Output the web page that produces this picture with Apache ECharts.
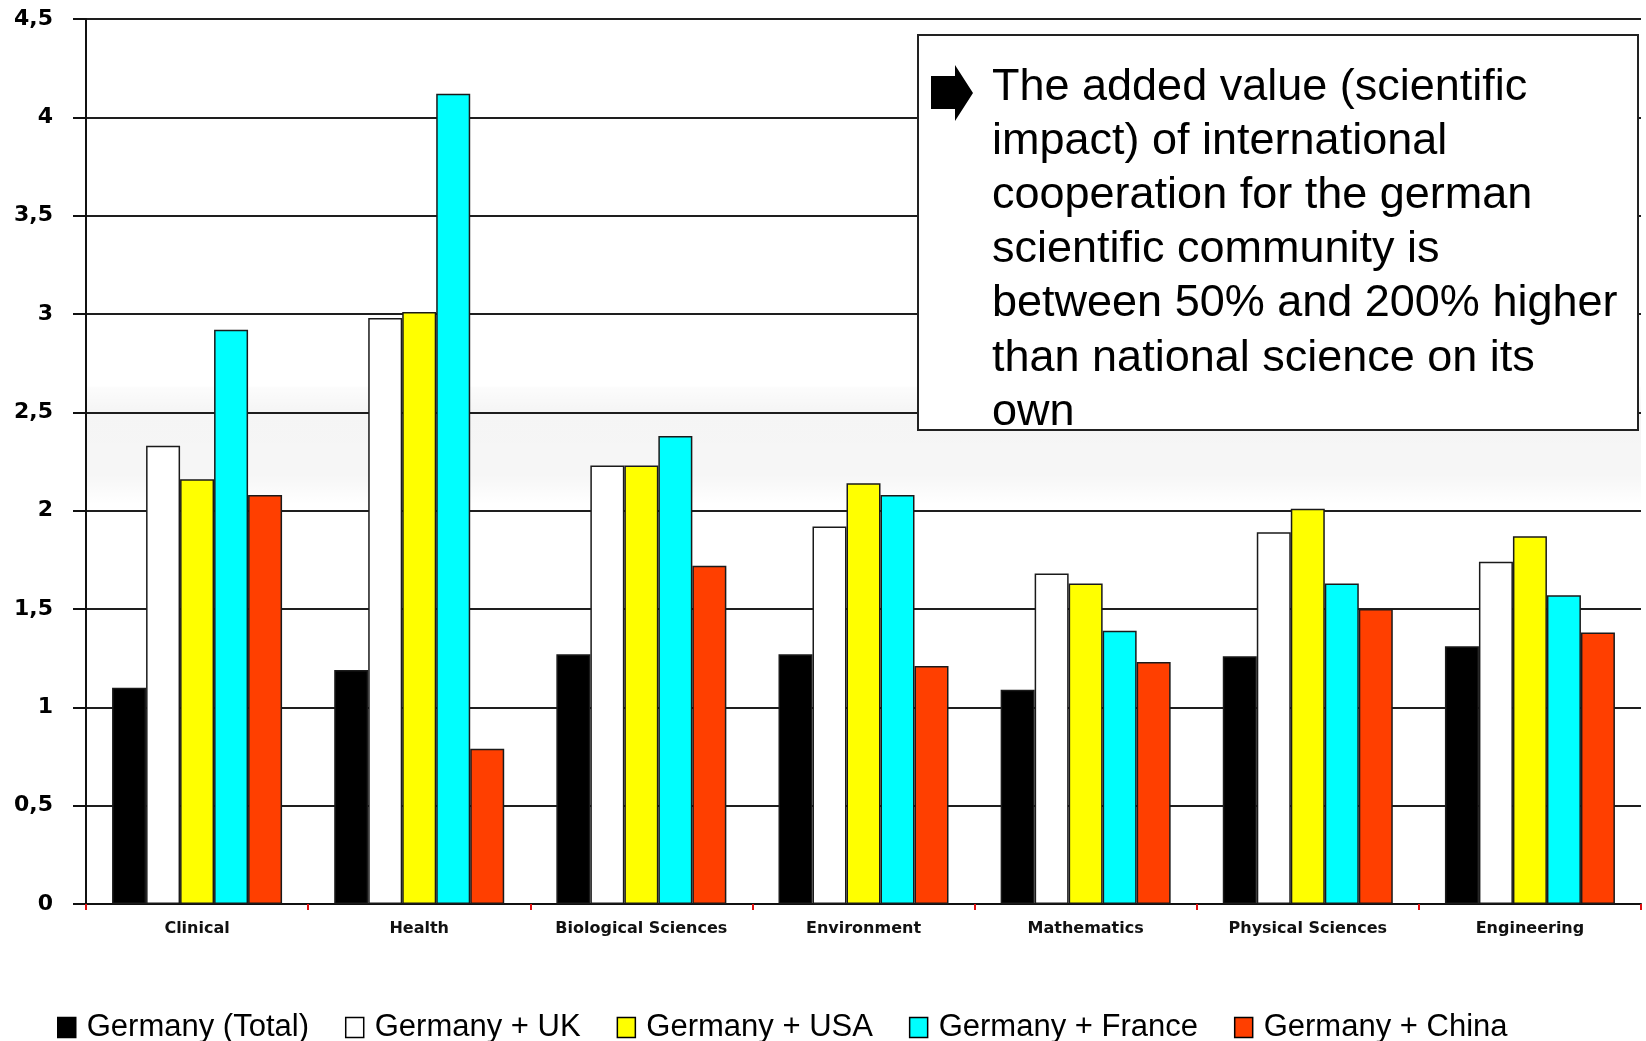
<!DOCTYPE html>
<html>
<head>
<meta charset="utf-8">
<script src="https://cdn.jsdelivr.net/npm/echarts@6/dist/echarts.min.js"></script>
<style>
html,body{margin:0;padding:0;background:#fff;}
#chart{width:1646px;height:1041px;}
</style>
</head>
<body>
<div id="chart"></div>
<script>
var categories = ['Clinical', 'Health', 'Biological Sciences', 'Environment', 'Mathematics', 'Physical Sciences', 'Engineering'];
var germanyTotal  = [1.10, 1.19, 1.27, 1.27, 1.09, 1.26, 1.31];
var germanyUK     = [2.33, 2.98, 2.23, 1.92, 1.68, 1.89, 1.74];
var germanyUSA    = [2.16, 3.01, 2.23, 2.14, 1.63, 2.01, 1.87];
var germanyFrance = [2.92, 4.12, 2.38, 2.08, 1.39, 1.63, 1.57];
var germanyChina  = [2.08, 0.79, 1.72, 1.21, 1.23, 1.50, 1.38];
var seriesNames = ['Germany (Total)', 'Germany + UK', 'Germany + USA', 'Germany + France', 'Germany + China'];
var seriesColors = ['#000000', '#ffffff', '#ffff00', '#00ffff', '#ff3f00'];
var yTicks = [0, 0.5, 1, 1.5, 2, 2.5, 3, 3.5, 4, 4.5];
var noteText = 'The added value (scientific\nimpact) of international\ncooperation for the german\nscientific community is\nbetween 50% and 200% higher\nthan national science on its\nown';

var seriesData = [germanyTotal, germanyUK, germanyUSA, germanyFrance, germanyChina];

var chart = echarts.init(document.getElementById('chart'), null, {renderer: 'canvas'});

var series = seriesData.map(function (d, i) {
  var s = {
    name: seriesNames[i],
    type: 'bar',
    data: d,
    barWidth: 34,
    barGap: '0%',
    itemStyle: {color: seriesColors[i], borderColor: '#1a1a1a', borderWidth: 1.5},
    emphasis: {disabled: true}
  };
  if (i === 0) {
    s.markArea = {
      silent: true,
      itemStyle: {
        color: {type: 'linear', x: 0, y: 0, x2: 0, y2: 1, colorStops: [
          {offset: 0, color: 'rgba(0,0,0,0.01)'},
          {offset: 0.2, color: 'rgba(0,0,0,0.04)'},
          {offset: 0.75, color: 'rgba(0,0,0,0.035)'},
          {offset: 1, color: 'rgba(0,0,0,0)'}
        ]}
      },
      data: [[{yAxis: 2.63}, {yAxis: 2.03}]]
    };
  }
  return s;
});

var option = {
  backgroundColor: '#ffffff',
  animation: false,
  grid: {left: 86, right: 5, top: 19, bottom: 137, containLabel: false},
  legend: {
    left: 52,
    top: 1007,
    itemWidth: 18,
    itemHeight: 20,
    itemGap: 36,
    icon: 'rect',
    data: seriesNames,
    textStyle: {fontFamily: '"Liberation Sans", Arial, sans-serif', fontSize: 31, color: '#000', padding: [0, 0, 0, 6]},
    itemStyle: {borderColor: '#000', borderWidth: 1.5}
  },
  xAxis: {
    type: 'category',
    data: categories,
    boundaryGap: true,
    axisLine: {lineStyle: {color: '#111', width: 2}},
    axisTick: {show: true, length: 6, lineStyle: {color: '#e01010', width: 2}},
    axisLabel: {
      margin: 17,
      interval: 0,
      fontFamily: '"DejaVu Sans", sans-serif',
      fontWeight: 'bold',
      fontSize: 16,
      color: '#111'
    },
    splitLine: {show: false}
  },
  yAxis: {
    type: 'value',
    min: 0,
    max: 4.5,
    interval: 0.5,
    axisLine: {show: true, lineStyle: {color: '#111', width: 2}},
    axisTick: {show: true, length: 13, lineStyle: {color: '#111', width: 2}},
    axisLabel: {
      margin: 33,
      fontFamily: '"DejaVu Sans", sans-serif',
      fontWeight: 'bold',
      fontSize: 22,
      color: '#000',
      formatter: function (v) {
        return yTicks.indexOf(v) >= 0 ? String(v).replace('.', ',') : '';
      }
    },
    splitLine: {show: true, lineStyle: {color: '#1e1e1e', width: 2}}
  },
  graphic: [
    {
      type: 'rect',
      z: 100,
      shape: {x: 918, y: 35, width: 720, height: 395},
      style: {fill: '#ffffff', stroke: '#222', lineWidth: 2}
    },
    {
      type: 'polygon',
      z: 101,
      shape: {points: [[931, 76], [955, 76], [955, 65], [973, 93], [955, 121], [955, 109], [931, 109]]},
      style: {fill: '#000'}
    },
    {
      type: 'text',
      z: 101,
      left: 992,
      top: 60,
      style: {
        text: noteText,
        fontFamily: '"Liberation Sans", Arial, sans-serif',
        fontSize: 45,
        lineHeight: 54.2,
        fill: '#000'
      }
    }
  ],
  series: series
};

chart.setOption(option);
</script>
</body>
</html>
